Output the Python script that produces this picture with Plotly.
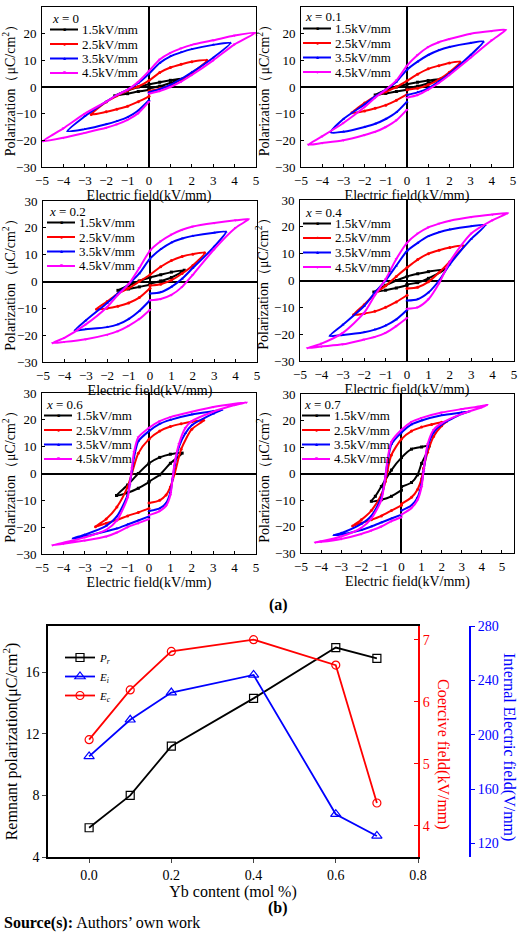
import plotly.graph_objects as go

# ---------------- data: hysteresis loops (E in kV/mm, P in uC/cm2) ----------------
# panel x = 0
E0_15 = [0, 0.5, 1.0, 1.6, 1.0, 0.5, 0, -0.5, -1.0, -1.6, -1.0, -0.5, 0]
P0_15 = [-0.5, 0.3, 1.5, 3.2, 2.5, 1.8, 1.0, 0.0, -1.3, -3.3, -2.5, -1.7, -1.0]
E0_25 = [0, 0.5, 1, 1.5, 2, 2.7, 2, 1.5, 1, 0.5, 0, -0.5, -1, -1.5, -2, -2.7, -2, -1.5, -1, -0.5, 0]
P0_25 = [-1.5, -0.6, 0.6, 2.8, 5.2, 10.0, 9.5, 8.5, 7.3, 5.4, 2.4, 0.2, -1.3, -3.3, -5.6, -10.3, -9.3, -8.3, -7.2, -5.5, -3.5]
E0_35 = [0, 0.5, 1, 1.5, 2, 3, 3.8, 3, 2, 1.5, 1, 0.5, 0, -0.5, -1, -1.5, -2, -3, -3.8, -3, -2, -1.5, -1, -0.5, 0]
P0_35 = [-2.0, -0.8, 0.8, 3.0, 5.5, 11.0, 16.5, 15.8, 14.2, 13.0, 11.5, 9.0, 5.0, 1.5, -1.0, -3.0, -5.5, -11.0, -16.5, -15.8, -14.0, -12.8, -11.3, -8.8, -5.0]
E0_45 = [0, 0.5, 1, 1.5, 2, 3, 4, 4.95, 4, 3, 2, 1.5, 1, 0.5, 0, -0.5, -1, -1.5, -2, -3, -4, -4.95, -4, -3, -2, -1.5, -1, -0.5, 0]
P0_45 = [-2.5, -1.5, 0.0, 2.0, 4.5, 10.0, 16.0, 20.3, 19.3, 17.5, 15.8, 14.5, 12.8, 10.3, 6.0, 2.0, -1.0, -3.0, -5.5, -10.0, -15.5, -20.3, -19.0, -17.2, -15.3, -14.0, -12.3, -9.8, -5.5]

# panel x = 0.1
E1_15 = [0, 0.5, 1.0, 1.6, 1.0, 0.5, 0, -0.5, -1.0, -1.5, -1.0, -0.5, 0]
P1_15 = [-0.5, 0.3, 1.4, 3.0, 2.4, 1.8, 1.0, 0.0, -1.2, -3.0, -2.4, -1.7, -1.0]
E1_25 = [0, 0.5, 1, 1.5, 2, 2.5, 2, 1.5, 1, 0.5, 0, -0.5, -1, -1.5, -2, -2.6, -2, -1.5, -1, -0.5, 0]
P1_25 = [-1.0, -0.5, 0.8, 2.8, 5.5, 9.4, 9.0, 8.0, 6.8, 4.8, 2.3, 0.0, -1.8, -3.5, -6.0, -9.7, -9.0, -8.0, -6.8, -5.0, -2.8]
E1_35 = [0, 0.5, 1, 1.5, 2, 3, 3.6, 3, 2, 1.5, 1, 0.5, 0, -0.5, -1, -1.5, -2, -3, -3.6, -3, -2, -1.5, -1, -0.5, 0]
P1_35 = [-3.0, -2.0, -0.5, 2.0, 5.0, 12.0, 17.0, 16.5, 15.0, 13.8, 12.0, 9.5, 6.5, 2.0, -1.0, -3.5, -6.5, -12.0, -17.0, -16.8, -15.0, -13.8, -12.0, -9.5, -5.5]
E1_45 = [0, 0.5, 1, 1.5, 2, 3, 4, 4.65, 4, 3, 2, 1.5, 1, 0.5, 0, -0.5, -1, -1.5, -2, -3, -4, -4.65, -4, -3, -2, -1.5, -1, -0.5, 0]
P1_45 = [-4.0, -3.0, -1.0, 1.5, 4.5, 11.0, 17.5, 21.4, 21.0, 20.0, 18.0, 16.8, 15.0, 12.0, 8.0, 2.5, -1.0, -4.0, -7.5, -13.5, -18.5, -21.6, -21.0, -20.0, -18.0, -16.8, -15.0, -12.5, -8.5]

# panel x = 0.2
E2_15 = [0, 0.5, 1, 1.6, 1, 0.5, 0, -0.5, -1, -1.5, -1, -0.5, 0]
P2_15 = [-0.8, 0.2, 1.5, 4.2, 3.5, 2.5, 1.5, 0.2, -1.5, -3.3, -2.8, -2.0, -1.2]
E2_25 = [0, 0.5, 1, 1.5, 2, 2.55, 2, 1.5, 1, 0.5, 0, -0.5, -1, -1.5, -2, -2.5, -2, -1.5, -1, -0.5, 0]
P2_25 = [-1.5, -1.0, 0.5, 3.0, 6.0, 10.7, 10.2, 9.3, 7.8, 5.5, 2.5, 0.0, -2.5, -4.5, -7.5, -10.3, -10.0, -9.2, -8.0, -6.0, -2.5]
E2_35 = [0, 0.5, 1, 1.5, 2, 3, 3.55, 3, 2, 1.5, 1, 0.5, 0, -0.5, -1, -1.5, -2, -3, -3.5, -3, -2, -1.5, -1, -0.5, 0]
P2_35 = [-4.5, -4.0, -2.0, 1.0, 5.0, 13.0, 18.5, 18.2, 17.0, 16.0, 14.5, 12.0, 8.5, 3.0, -1.0, -4.5, -8.0, -14.5, -18.2, -17.8, -17.0, -16.0, -14.0, -11.0, -7.0]
E2_45 = [0, 0.5, 1, 1.5, 2, 3, 4, 4.6, 4, 3, 2, 1.5, 1, 0.5, 0, -0.5, -1, -1.5, -2, -3, -4, -4.55, -4, -3, -2, -1.5, -1, -0.5, 0]
P2_45 = [-7.0, -6.5, -5.0, -2.0, 2.5, 12.0, 20.0, 23.2, 22.8, 21.8, 20.5, 19.3, 17.5, 15.0, 11.5, 5.0, -1.0, -5.0, -9.5, -16.0, -21.0, -22.9, -22.5, -21.5, -19.8, -18.5, -16.5, -14.0, -10.5]

# panel x = 0.4
E4_15 = [0, 0.5, 1, 1.75, 1, 0.5, 0, -0.5, -1, -1.55, -1, -0.5, 0]
P4_15 = [-1.5, -0.8, 0.8, 4.1, 3.3, 2.5, 1.5, 0.0, -1.8, -4.3, -3.6, -2.8, -1.8]
E4_25 = [0, 0.5, 1, 1.5, 2, 2.65, 2, 1.5, 1, 0.5, 0, -0.5, -1, -1.5, -2, -2.5, -2, -1.5, -1, -0.5, 0]
P4_25 = [-3.0, -2.5, -0.5, 3.0, 7.0, 12.9, 12.3, 11.3, 10.0, 7.8, 4.8, 1.5, -2.0, -5.0, -9.0, -12.8, -12.3, -11.5, -10.0, -8.0, -5.5]
E4_35 = [0, 0.5, 1, 1.5, 2, 3, 3.65, 3, 2, 1.5, 1, 0.5, 0, -0.5, -1, -1.5, -2, -3, -3.6, -3, -2, -1.5, -1, -0.5, 0]
P4_35 = [-7.5, -7.0, -4.5, 0.0, 6.0, 15.5, 20.6, 20.2, 19.0, 18.0, 16.5, 14.0, 11.0, 5.5, 0.0, -4.5, -9.5, -16.5, -20.6, -20.3, -19.3, -18.3, -16.8, -14.5, -11.0]
E4_45 = [0, 0.5, 1, 1.5, 2, 3, 4, 4.7, 4, 3, 2, 1.5, 1, 0.5, 0, -0.5, -1, -1.5, -2, -3, -4, -4.65, -4, -3, -2, -1.5, -1, -0.5, 0]
P4_45 = [-10.5, -10.0, -7.0, -1.0, 7.0, 17.5, 22.5, 25.1, 24.6, 23.7, 22.3, 21.2, 19.8, 17.5, 14.0, 8.0, 0.5, -5.5, -12.0, -19.5, -23.5, -25.2, -24.6, -23.8, -22.0, -21.0, -19.5, -17.0, -14.0]

# panel x = 0.6
E6_15 = [0, 0.5, 1, 1.55, 1, 0.5, 0, -0.5, -1, -1.52, -1, -0.5, 0]
P6_15 = [-3.0, -0.5, 3.8, 7.6, 7.2, 6.0, 3.8, 0.0, -4.3, -8.2, -7.2, -5.5, -3.2]
E6_25 = [0, 0.5, 0.8, 1, 1.2, 1.5, 2, 2.55, 2, 1.5, 1, 0.5, 0, -0.5, -0.8, -1, -1.5, -2, -2.5, -2, -1.5, -1, -0.5, 0]
P6_25 = [-11.0, -10.0, -8.0, -5.0, 0.0, 9.0, 16.5, 19.8, 19.3, 18.5, 17.5, 15.8, 12.8, 7.5, 0.0, -5.0, -12.5, -17.0, -19.8, -18.5, -17.3, -15.8, -14.5, -13.0]
E6_35 = [0, 0.5, 0.8, 1, 1.1, 1.2, 1.4, 1.7, 2, 3, 3.4, 3, 2, 1, 0.5, 0, -0.5, -0.7, -0.8, -0.9, -1, -1.5, -2, -3, -3.55, -3, -2, -1.5, -1, -0.5, 0]
P6_35 = [-14.0, -13.0, -11.0, -7.0, -2.0, 3.0, 10.0, 15.0, 18.0, 22.3, 23.7, 23.2, 22.0, 20.0, 18.5, 15.8, 12.0, 6.0, 1.0, -4.0, -8.0, -16.0, -19.5, -22.8, -24.2, -23.5, -21.5, -20.5, -19.0, -17.5, -16.0]
E6_45 = [0, 0.5, 0.8, 1, 1.1, 1.2, 1.4, 1.7, 2, 3, 4, 4.55, 4, 3, 2, 1, 0.5, 0, -0.5, -0.7, -0.8, -0.9, -1, -1.5, -2, -3, -4, -4.5, -4, -3, -2, -1.5, -1, -0.5, 0]
P6_45 = [-15.5, -14.0, -12.0, -8.0, -2.0, 4.0, 11.0, 17.0, 19.5, 23.0, 25.5, 26.5, 26.0, 24.8, 23.0, 21.0, 19.5, 17.0, 13.5, 8.0, 2.0, -4.0, -9.0, -17.5, -21.0, -23.8, -25.8, -26.7, -26.2, -25.0, -23.5, -22.0, -20.0, -18.5, -17.0]

# panel x = 0.7
E7_15 = [0, 0.5, 0.8, 1, 1.38, 1, 0.5, 0, -0.5, -1, -1.3, -1.5, -1, -0.5, 0]
P7_15 = [-5.0, -3.4, -0.5, 3.8, 10.4, 10.0, 9.2, 6.0, 1.3, -4.9, -8.6, -10.5, -9.9, -8.6, -6.3]
E7_25 = [0, 0.5, 0.8, 1, 1.1, 1.3, 1.6, 2, 2.24, 2, 1.5, 1, 0.5, 0, -0.5, -0.7, -0.8, -1, -1.5, -2, -2.43, -2, -1.5, -1, -0.5, 0]
P7_25 = [-11.5, -9.0, -6.0, -2.0, 2.0, 8.0, 14.0, 18.0, 19.6, 19.3, 18.5, 17.5, 16.0, 13.0, 7.0, 1.0, -3.0, -8.0, -14.0, -17.5, -19.8, -18.7, -17.5, -16.0, -14.0, -12.0]
E7_35 = [0, 0.5, 0.8, 1, 1.1, 1.3, 1.6, 2, 3, 3.36, 3, 2, 1, 0.5, 0, -0.5, -0.7, -0.8, -1, -1.5, -2, -3, -3.36, -3, -2, -1.5, -1, -0.5, 0]
P7_35 = [-14.0, -12.0, -9.0, -4.0, 1.0, 10.0, 15.5, 18.5, 22.5, 23.4, 23.0, 22.0, 20.0, 18.5, 15.5, 11.0, 4.0, -1.0, -9.0, -16.0, -19.0, -22.5, -23.3, -23.0, -21.3, -20.0, -18.5, -17.0, -15.5]
E7_45 = [0, 0.5, 0.8, 1, 1.1, 1.3, 1.6, 2, 3, 4, 4.26, 4, 3, 2, 1, 0.5, 0, -0.5, -0.7, -0.8, -1, -1.5, -2, -3, -4, -4.29, -4, -3, -2, -1.5, -1, -0.5, 0]
P7_45 = [-15.5, -13.0, -10.0, -5.0, 1.0, 11.0, 16.5, 19.0, 22.5, 25.0, 25.9, 25.5, 24.3, 23.0, 21.0, 19.5, 16.5, 12.0, 5.0, -1.0, -10.0, -17.0, -20.5, -23.8, -25.6, -26.0, -25.8, -24.7, -22.8, -21.5, -20.0, -18.0, -16.5]

loop_names = ["1.5kV/mm", "2.5kV/mm", "3.5kV/mm", "4.5kV/mm"]
panel_titles = ["0", "0.1", "0.2", "0.4", "0.6", "0.7"]
panel_E = [[E0_15, E0_25, E0_35, E0_45], [E1_15, E1_25, E1_35, E1_45], [E2_15, E2_25, E2_35, E2_45],
           [E4_15, E4_25, E4_35, E4_45], [E6_15, E6_25, E6_35, E6_45], [E7_15, E7_25, E7_35, E7_45]]
panel_P = [[P0_15, P0_25, P0_35, P0_45], [P1_15, P1_25, P1_35, P1_45], [P2_15, P2_25, P2_35, P2_45],
           [P4_15, P4_25, P4_35, P4_45], [P6_15, P6_25, P6_35, P6_45], [P7_15, P7_25, P7_35, P7_45]]

# ---------------- data: panel (b) ----------------
yb_content = [0.0, 0.1, 0.2, 0.4, 0.6, 0.7]
Pr = [5.9, 8.0, 11.2, 14.3, 17.6, 16.9]
Ei = [184, 211, 231, 244, 141.5, 125.5]
Ec = [5.39, 6.19, 6.81, 7.0, 6.59, 4.37]

# ---------------- styling ----------------
W, H = 520, 933
FONT = "Liberation Serif, Times New Roman, serif"
loop_colors = ["#000000", "#ff0000", "#0000ff", "#ff00ff"]
loop_symbols = ["square", "circle", "triangle-up", "triangle-down"]
legend_glyphs = ["■", "●", "▲", "▼"]

def dx(px):
    return px / W

def dy(px):
    return 1 - px / H

# plot-area boxes in pixels: (left, right, top, bottom, xrange)
boxes = [
    (42, 256, 7, 167, [-5, 5]),
    (301, 513, 7, 167, [-5, 5]),
    (43, 257, 201, 362, [-5, 5]),
    (300, 514, 200, 361, [-5, 5]),
    (42, 256, 393, 554, [-5, 5]),
    (301, 514, 394, 553, [-5, 5.6]),
]
# legend anchors (title left x, title centre y), pixels
legend_pos = [(50, 18), (303, 17), (47, 211), (303, 212), (44, 404), (302, 404)]

fig = go.Figure()
layout = dict(
    width=W, height=H, margin=dict(l=0, r=0, t=0, b=0, pad=0, autoexpand=False),
    paper_bgcolor="white", plot_bgcolor="white",
    font=dict(family=FONT, color="black", size=13),
    showlegend=True,
)
annotations = []
shapes = []

for i, (l, r, t, b, xr) in enumerate(boxes):
    n = i + 1
    xa = "xaxis" if n == 1 else f"xaxis{n}"
    ya = "yaxis" if n == 1 else f"yaxis{n}"
    xref = "x" if n == 1 else f"x{n}"
    yref = "y" if n == 1 else f"y{n}"
    for k in range(4):
        fig.add_trace(go.Scatter(
            x=panel_E[i][k], y=panel_P[i][k], name=loop_names[k], showlegend=False,
            mode="lines+markers", xaxis=xref, yaxis=yref,
            line=dict(color=loop_colors[k], width=2, shape="spline", smoothing=0.7),
            marker=dict(symbol=loop_symbols[k], size=3, color=loop_colors[k]),
        ))
    layout[xa] = dict(
        domain=[dx(l), dx(r)], range=xr, anchor=yref, dtick=1, tick0=0, automargin=False,
        ticks="inside", ticklen=3, tickcolor="black", showline=True, mirror=True,
        linecolor="black", linewidth=1, showgrid=False, zeroline=True,
        zerolinecolor="black", zerolinewidth=1.5, ticklabelstandoff=1,
        tickfont=dict(family=FONT, size=13, color="black"),
        title=dict(text="Electric field(kV/mm)", font=dict(family=FONT, size=14), standoff=1),
    )
    layout[ya] = dict(
        domain=[dy(b), dy(t)], range=[-30, 30], anchor=xref, dtick=10, automargin=False,
        ticks="inside", ticklen=3, tickcolor="black", showline=True, mirror=True,
        linecolor="black", linewidth=1, showgrid=False, zeroline=True,
        zerolinecolor="black", zerolinewidth=1.5, ticklabelstandoff=2,
        tickfont=dict(family=FONT, size=13, color="black"),
        title=dict(text="Polarization（μC/cm<sup>2</sup>）", font=dict(family=FONT, size=14), standoff=2),
    )
    # panel legend (title + four entries)
    lx, ty = legend_pos[i]
    annotations.append(dict(text=f"<i>x</i> = {panel_titles[i]}", x=dx(lx), y=dy(ty),
                            xref="paper", yref="paper", xanchor="left", yanchor="middle",
                            showarrow=False, font=dict(family=FONT, size=13, color="black")))
    for k in range(4):
        yk = ty + 11.5 + 14.5 * k
        shapes.append(dict(type="line", xref="paper", yref="paper",
                           x0=dx(lx), x1=dx(lx + 28), y0=dy(yk), y1=dy(yk),
                           line=dict(color=loop_colors[k], width=2)))
        annotations.append(dict(text=legend_glyphs[k], x=dx(lx + 14), y=dy(yk),
                                xref="paper", yref="paper", xanchor="center", yanchor="middle",
                                showarrow=False, font=dict(family=FONT, size=5, color=loop_colors[k])))
        annotations.append(dict(text=loop_names[k], x=dx(lx + 30), y=dy(yk),
                                xref="paper", yref="paper", xanchor="left", yanchor="middle",
                                showarrow=False, font=dict(family=FONT, size=13, color="black")))

# ---------------- panel (b) ----------------
bl, br, bt, bb = 48, 418, 626, 857
fig.add_trace(go.Scatter(x=yb_content, y=Pr, name="<i>P</i><sub><i>r</i></sub>", mode="lines+markers",
                         xaxis="x7", yaxis="y7",
                         line=dict(color="black", width=1.8),
                         marker=dict(symbol="square-open", size=8, color="black", line=dict(width=1.2))))
fig.add_trace(go.Scatter(x=yb_content, y=Ei, name="<i>E</i><sub><i>i</i></sub>", mode="lines+markers",
                         xaxis="x7", yaxis="y9",
                         line=dict(color="#0000ff", width=1.8),
                         marker=dict(symbol="triangle-up-open", size=9, color="#0000ff", line=dict(width=1.2))))
fig.add_trace(go.Scatter(x=yb_content, y=Ec, name="<i>E</i><sub><i>c</i></sub>", mode="lines+markers",
                         xaxis="x7", yaxis="y8",
                         line=dict(color="#ff0000", width=1.8),
                         marker=dict(symbol="circle-open", size=8, color="#ff0000", line=dict(width=1.2))))

layout["xaxis7"] = dict(
    domain=[dx(bl), dx(br)], range=[-0.1, 0.8], anchor="y7", dtick=0.2, tick0=0, tickformat=".1f",
    ticks="outside", ticklen=4, showline=True, mirror=True, linecolor="black", linewidth=1.5,
    showgrid=False, zeroline=False, tickfont=dict(family=FONT, size=14, color="black"), automargin=False,
    title=dict(text="Yb content (mol %)", font=dict(family=FONT, size=16), standoff=0),
)
layout["yaxis7"] = dict(
    domain=[dy(bb), dy(bt)], range=[4, 19], anchor="x7", dtick=4, tick0=4, automargin=False,
    ticks="outside", ticklen=4, showline=True, linecolor="black", linewidth=1.5,
    showgrid=False, zeroline=False, tickfont=dict(family=FONT, size=14, color="black"),
    title=dict(text="Remnant polarization(μC/cm<sup>2</sup>)", font=dict(family=FONT, size=16), standoff=4),
)
layout["yaxis8"] = dict(
    overlaying="y7", side="right", anchor="x7", range=[3.5, 7.22], dtick=1, automargin=False,
    ticks="inside", ticklen=4, tickcolor="#ff0000", showline=True, linecolor="#ff0000", linewidth=2,
    showgrid=False, zeroline=False, tickfont=dict(family=FONT, size=14, color="#ff0000"),
)
layout["yaxis9"] = dict(
    overlaying="y7", side="right", anchor="free", position=dx(470), range=[110, 280], dtick=40, tick0=120,
    automargin=False,
    ticks="outside", ticklen=4, tickcolor="#0000ff", showline=True, linecolor="#0000ff", linewidth=2,
    showgrid=False, zeroline=False, tickfont=dict(family=FONT, size=14, color="#0000ff"),
)
layout["legend"] = dict(
    x=dx(60), y=dy(643), xanchor="left", yanchor="top", bgcolor="rgba(0,0,0,0)",
    itemwidth=30, tracegroupgap=0, font=dict(family=FONT, size=11, color="black"),
    itemclick=False, itemdoubleclick=False,
)

annotations += [
    dict(text="Coercive field(kV/mm)", x=dx(443), y=dy(754), xref="paper", yref="paper",
         xanchor="center", yanchor="middle",
         showarrow=False, textangle=90, font=dict(family=FONT, size=16, color="#ff0000")),
    dict(text="Internal Electric field(V/mm)", x=dx(509), y=dy(747), xref="paper", yref="paper",
         xanchor="center", yanchor="middle",
         showarrow=False, textangle=90, font=dict(family=FONT, size=16, color="#0000ff")),
    dict(text="<b>(a)</b>", x=dx(278), y=dy(605), xref="paper", yref="paper",
         xanchor="center", yanchor="middle",
         showarrow=False, font=dict(family=FONT, size=16, color="black")),
    dict(text="<b>(b)</b>", x=dx(278), y=dy(908), xref="paper", yref="paper",
         xanchor="center", yanchor="middle",
         showarrow=False, font=dict(family=FONT, size=16, color="black")),
    dict(text="<b>Source(s):</b> Authors’ own work", x=dx(2), y=dy(923), xref="paper", yref="paper",
         xanchor="left", yanchor="middle", showarrow=False, font=dict(family=FONT, size=16, color="black")),
]
layout["annotations"] = annotations
layout["shapes"] = shapes

fig.update_layout(**layout)
fig.write_html("out.html")
